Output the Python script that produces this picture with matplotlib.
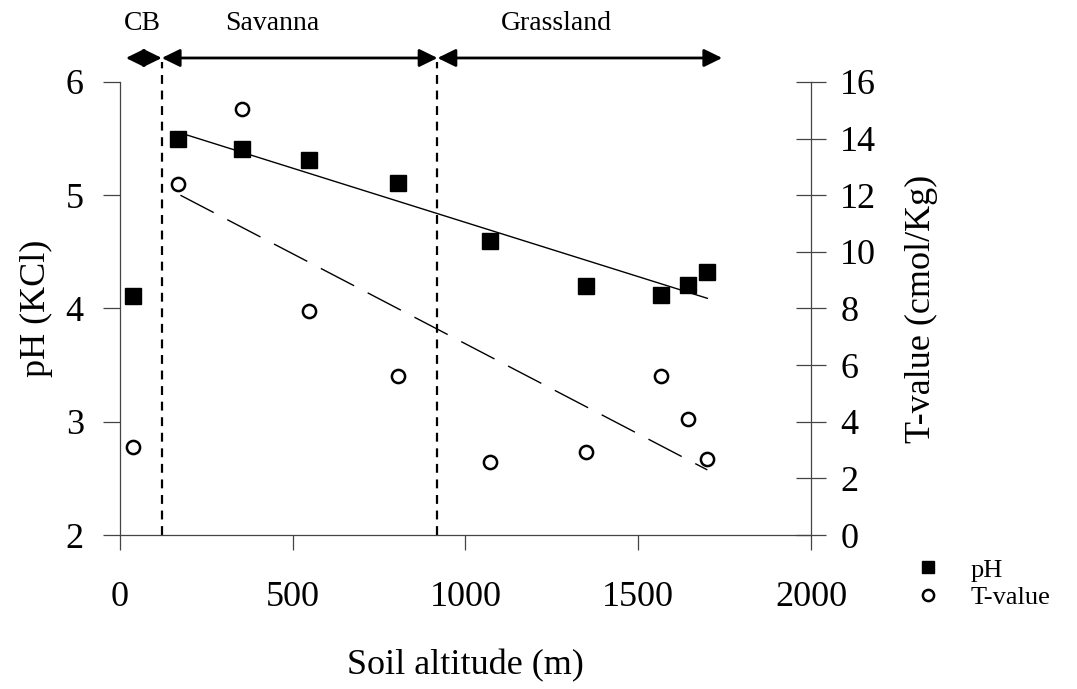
import matplotlib
matplotlib.use("Agg")
import matplotlib.pyplot as plt

plt.rcParams["font.family"] = ["Liberation Serif", "DejaVu Serif"]

# soil altitude (m) of the sampled sites
altitude = [38, 168, 353, 546, 804, 1071, 1350, 1566, 1643, 1700]
ph_kcl = [4.11, 5.50, 5.41, 5.31, 5.11, 4.60, 4.20, 4.12, 4.21, 4.32]
t_value = [3.1, 12.4, 15.05, 7.9, 5.6, 2.57, 2.93, 5.62, 4.09, 2.69]

# trend lines (end points)
trend_alt = [175, 1700]
ph_trend = [5.55, 4.09]
t_trend = [12.0, 2.3]

# vegetation zones: name, start, end (m)
zones = ["CB", "Savanna", "Grassland"]
zone_start = [17, 121, 919]
zone_end = [121, 919, 1743]
zone_label_x = [66, 442, 1263]
borders = [121, 919]

fig = plt.figure(figsize=(10.77, 6.89), dpi=100)
ax = fig.add_axes([0.1114, 0.2235, 0.6416, 0.6575])
ax2 = ax.twinx()

edge = "#444444"

ax.plot(altitude, ph_kcl, "s", color="black", markersize=11, label="pH", zorder=4)
ax.plot(trend_alt, ph_trend, "-", color="black", lw=1.0, zorder=3)
ax2.plot(altitude, t_value, "o", mfc="white", mec="black", mew=1.8,
         markersize=9.5, label="T-value", zorder=4)
ax2.plot(trend_alt, t_trend, color="black", lw=1.0, linestyle=(0, (27, 11)), zorder=3)

for b in borders:
    ax.axvline(b, ymin=0, ymax=1.045, color="black", lw=1.6,
               linestyle=(0, (4, 3)), clip_on=False, zorder=2)

for name, x0, x1, xl in zip(zones, zone_start, zone_end, zone_label_x):
    ax.annotate("", xy=(x1, 1.053), xytext=(x0, 1.053),
                xycoords=("data", "axes fraction"),
                textcoords=("data", "axes fraction"),
                arrowprops=dict(arrowstyle="<|-|>,head_length=0.55,head_width=0.27",
                                color="black", lw=2.0, shrinkA=0, shrinkB=0,
                                mutation_scale=20),
                annotation_clip=False)
    ax.text(xl, 1.13, name, transform=ax.get_xaxis_transform(),
            ha="center", va="center", fontsize=20)

ax.set_xlim(0, 2000)
ax.set_ylim(2, 6)
ax2.set_ylim(0, 16)
ax.set_xticks([0, 500, 1000, 1500, 2000])
ax.set_yticks([2, 3, 4, 5, 6])
ax2.set_yticks(range(0, 17, 2))

ax.tick_params(axis="x", direction="out", length=11, width=0.9, color=edge,
               labelsize=26, pad=22)
ax.tick_params(axis="y", direction="out", length=12, width=0.9, color=edge,
               labelsize=26, pad=14)
ax2.tick_params(axis="y", direction="inout", length=22, width=0.9, color=edge,
                labelsize=26, pad=10)

for a in (ax, ax2):
    a.spines["top"].set_visible(False)
    for s in ("left", "right", "bottom"):
        a.spines[s].set_color(edge)
        a.spines[s].set_linewidth(0.9)
ax.spines["right"].set_visible(False)
ax2.spines["left"].set_visible(False)
ax2.spines["bottom"].set_visible(False)

ax.set_xlabel("Soil altitude (m)", fontsize=26)
ax.xaxis.set_label_coords(0.5, -0.252)
ax.set_ylabel("pH (KCl)", fontsize=26)
ax.yaxis.set_label_coords(-0.097, 0.5)
ax2.set_ylabel("T-value (cmol/Kg)", fontsize=26)
ax2.yaxis.set_label_coords(1.136, 0.5)

h1, l1 = ax.get_legend_handles_labels()
h2, l2 = ax2.get_legend_handles_labels()
fig.legend(h1 + h2, l1 + l2, loc="upper left", bbox_to_anchor=(0.8496, 0.19),
           frameon=False, fontsize=19, handlelength=1.0, handletextpad=1.1,
           borderpad=0, borderaxespad=0, labelspacing=0.15, markerscale=0.85)

fig.savefig("out.png", dpi=100)
